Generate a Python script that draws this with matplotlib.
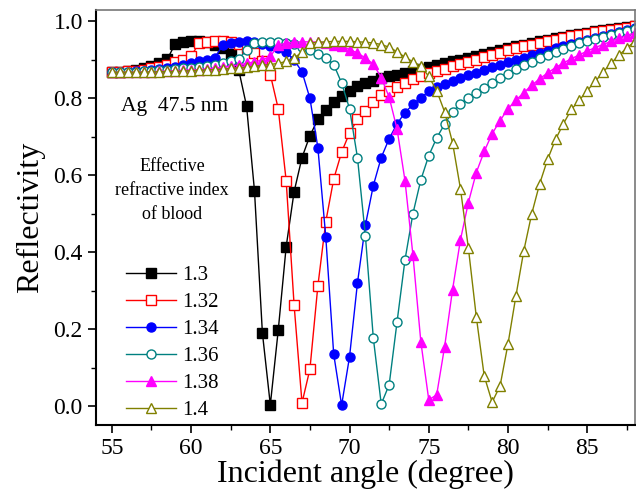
import numpy as np
import matplotlib
matplotlib.use("Agg")
import matplotlib.pyplot as plt
from matplotlib.ticker import MultipleLocator

plt.rcParams['font.family'] = ['Liberation Serif', 'DejaVu Serif']
plt.rcParams['mathtext.fontset'] = 'stix'

# incident angle grid (degree), 0.5 deg steps as in the plot
angle = np.arange(55, 88.01, 0.5)

r_130 = [0.868, 0.869, 0.871, 0.874, 0.878, 0.884, 0.891, 0.902, 0.942, 0.946,
         0.948, 0.948, 0.946, 0.940, 0.930, 0.915, 0.875, 0.780, 0.560, 0.190,
         0.003, 0.197, 0.414, 0.557, 0.646, 0.703, 0.745, 0.770, 0.790, 0.807,
         0.820, 0.831, 0.839, 0.846, 0.852, 0.857, 0.862, 0.866, 0.871, 0.876,
         0.881, 0.886, 0.891, 0.896, 0.901, 0.906, 0.911, 0.916, 0.921, 0.926,
         0.931, 0.935, 0.940, 0.944, 0.948, 0.952, 0.956, 0.960, 0.964, 0.967,
         0.971, 0.974, 0.977, 0.980, 0.983, 0.986, 0.989]
r_132 = [0.868, 0.869, 0.870, 0.872, 0.875, 0.878, 0.882, 0.887, 0.894, 0.901,
         0.910, 0.943, 0.946, 0.948, 0.948, 0.946, 0.941, 0.932, 0.918, 0.896,
         0.862, 0.773, 0.586, 0.263, 0.008, 0.096, 0.312, 0.479, 0.590, 0.660,
         0.710, 0.745, 0.768, 0.790, 0.808, 0.819, 0.830, 0.840, 0.850, 0.858,
         0.865, 0.871, 0.877, 0.883, 0.889, 0.895, 0.901, 0.907, 0.913, 0.919,
         0.925, 0.930, 0.936, 0.940, 0.945, 0.949, 0.953, 0.957, 0.961, 0.965,
         0.968, 0.972, 0.975, 0.978, 0.981, 0.984, 0.987]
r_134 = [0.868, 0.868, 0.869, 0.870, 0.872, 0.874, 0.876, 0.879, 0.882, 0.886,
         0.891, 0.896, 0.900, 0.906, 0.938, 0.944, 0.947, 0.948, 0.946, 0.942,
         0.937, 0.930, 0.920, 0.900, 0.869, 0.800, 0.672, 0.440, 0.135, 0.002,
         0.128, 0.320, 0.470, 0.573, 0.646, 0.695, 0.734, 0.763, 0.784, 0.802,
         0.818, 0.829, 0.838, 0.846, 0.853, 0.860, 0.867, 0.874, 0.881, 0.887,
         0.894, 0.900, 0.906, 0.912, 0.918, 0.924, 0.930, 0.936, 0.941, 0.947,
         0.952, 0.957, 0.962, 0.967, 0.972, 0.977, 0.982]
r_136 = [0.868, 0.868, 0.868, 0.869, 0.870, 0.871, 0.873, 0.874, 0.876, 0.878,
         0.880, 0.882, 0.885, 0.888, 0.892, 0.897, 0.903, 0.925, 0.943, 0.946,
         0.947, 0.947, 0.945, 0.941, 0.934, 0.926, 0.916, 0.906, 0.888, 0.840,
         0.773, 0.646, 0.443, 0.177, 0.005, 0.055, 0.219, 0.380, 0.500, 0.588,
         0.651, 0.697, 0.733, 0.765, 0.786, 0.800, 0.814, 0.827, 0.840, 0.852,
         0.864, 0.876, 0.886, 0.895, 0.904, 0.913, 0.921, 0.929, 0.936, 0.943,
         0.949, 0.955, 0.960, 0.965, 0.970, 0.976, 0.981]
r_138 = [0.868, 0.868, 0.868, 0.868, 0.869, 0.869, 0.870, 0.871, 0.872, 0.873,
         0.874, 0.875, 0.877, 0.879, 0.881, 0.884, 0.887, 0.891, 0.895, 0.900,
         0.909, 0.938, 0.944, 0.946, 0.947, 0.947, 0.946, 0.944, 0.940, 0.935,
         0.927, 0.918, 0.905, 0.889, 0.854, 0.803, 0.720, 0.586, 0.393, 0.167,
         0.016, 0.029, 0.154, 0.302, 0.432, 0.529, 0.607, 0.662, 0.708, 0.742,
         0.773, 0.795, 0.815, 0.834, 0.851, 0.866, 0.880, 0.892, 0.903, 0.913,
         0.923, 0.932, 0.940, 0.948, 0.956, 0.963, 0.970]
r_140 = [0.868, 0.868, 0.868, 0.868, 0.868, 0.869, 0.869, 0.870, 0.870, 0.871,
         0.872, 0.873, 0.874, 0.875, 0.876, 0.878, 0.879, 0.881, 0.883, 0.886,
         0.888, 0.891, 0.896, 0.905, 0.920, 0.944, 0.946, 0.947, 0.948, 0.948,
         0.948, 0.947, 0.946, 0.944, 0.940, 0.933, 0.921, 0.907, 0.895, 0.884,
         0.857, 0.820, 0.765, 0.685, 0.565, 0.411, 0.232, 0.078, 0.010, 0.052,
         0.161, 0.286, 0.404, 0.500, 0.578, 0.641, 0.693, 0.734, 0.771, 0.795,
         0.820, 0.844, 0.868, 0.891, 0.912, 0.931, 0.948]

labels = ['1.3', '1.32', '1.34', '1.36', '1.38', '1.4']
series = [r_130, r_132, r_134, r_136, r_138, r_140]
colors = ['black', 'red', 'blue', '#008080', 'magenta', '#808000']
markers = ['s', 's', 'o', 'o', '^', '^']
filled = [True, False, True, False, True, False]

fig = plt.figure(figsize=(6.36, 4.95), dpi=100)
ax = fig.add_axes([0.151, 0.141, 0.847, 0.839])

for lab, r, c, m, f in zip(labels, series, colors, markers, filled):
    ax.plot(angle, r, color=c, lw=1.0, marker=m, ms=6.5 if m != '^' else 7.5,
            mfc=c if f else 'white', mec=c, mew=1.0, label=lab)

ax.set_xlim(54, 88)
ax.set_ylim(-0.05, 1.03)
ax.xaxis.set_major_locator(MultipleLocator(5))
ax.xaxis.set_minor_locator(MultipleLocator(2.5))
ax.yaxis.set_major_locator(MultipleLocator(0.2))
ax.yaxis.set_minor_locator(MultipleLocator(0.1))
ax.yaxis.set_major_formatter(plt.FormatStrFormatter('%.1f'))
ax.xaxis.set_major_formatter(plt.FormatStrFormatter('%d'))
ax.tick_params(which='major', direction='out', length=6, width=1.2, labelsize=17,
               labelfontfamily='Liberation Serif')
ax.tick_params(which='minor', direction='out', length=3.5, width=1.0)

for s in ['left', 'bottom']:
    ax.spines[s].set_linewidth(1.5)
for s in ['top', 'right']:
    ax.spines[s].set_color('#777777')
    ax.spines[s].set_linewidth(1.2)

ax.set_xlabel('Incident angle (degree)', fontsize=23, labelpad=0)
ax.set_ylabel('Reflectivity', fontsize=23, labelpad=6)

ax.text(55.55, 0.78, 'Ag  47.5 nm', fontsize=15.5, ha='left', va='center')
ax.text(58.8, 0.56, 'Effective\nrefractive index\nof blood', fontsize=13,
        ha='center', va='center', linespacing=1.55)

ax.legend(loc='upper left', bbox_to_anchor=(0.048, 0.395), frameon=False,
          fontsize=15, handlelength=2.4, handletextpad=0.3, labelspacing=0.36,
          borderpad=0.2, borderaxespad=0)

fig.savefig('out.png', dpi=100)
